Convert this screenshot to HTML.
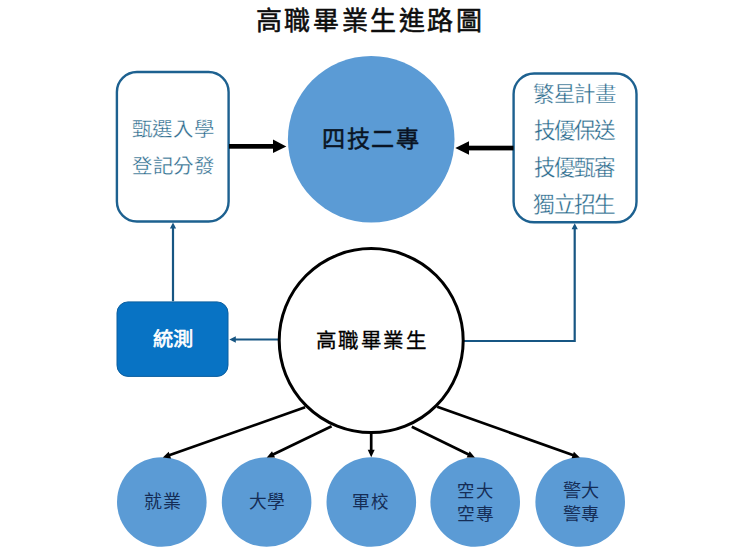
<!DOCTYPE html>
<html lang="zh-TW">
<head>
<meta charset="utf-8">
<style>
html,body{margin:0;padding:0;background:#fff;width:740px;height:555px;overflow:hidden;}
svg{display:block;}
text{font-family:"Liberation Sans",sans-serif;font-weight:400;}
</style>
</head>
<body>
<svg width="740" height="555" viewBox="0 0 740 555">
  <circle cx="371.2" cy="139.2" r="83.3" fill="#5b9bd5"/>
  <rect x="116.9" y="72" width="111.7" height="149.5" rx="20" ry="20" fill="#fff" stroke="#1d6190" stroke-width="2.4"/>
  <rect x="513.6" y="73.5" width="122.9" height="148.8" rx="20.5" ry="20.5" fill="#fff" stroke="#1d6190" stroke-width="2.4"/>
  <rect x="229" y="144" width="45" height="4.7" fill="#000"/>
  <polygon points="273,139.6 286.3,146.4 273,153.1" fill="#000"/>
  <rect x="468" y="145.7" width="45.5" height="4.7" fill="#000"/>
  <polygon points="469,141.2 455.3,148 469,154.7" fill="#000"/>
  <rect x="117" y="301.9" width="111" height="74.5" rx="11" ry="11" fill="#0873c4" stroke="#0b5e9f" stroke-width="1"/>
  <line x1="173" y1="301.2" x2="173" y2="226" stroke="#175683" stroke-width="2.2"/>
  <polygon points="169.9,228.4 173,222.4 176.1,228.4" fill="#175683"/>
  <line x1="278.8" y1="339.5" x2="234" y2="339.5" stroke="#175683" stroke-width="2.2"/>
  <polygon points="235.8,336.3 229.3,339.5 235.8,342.7" fill="#175683"/>
  <polyline points="463.7,341 574.7,341 574.7,227" fill="none" stroke="#175683" stroke-width="2.2"/>
  <polygon points="571.6,229.2 574.7,223.2 577.8,229.2" fill="#175683"/>
  <circle cx="371.2" cy="340.6" r="92" fill="#fff" stroke="#000" stroke-width="3"/>
  <circle cx="161.8" cy="502" r="44.8" fill="#5b9bd5"/>
  <circle cx="266.6" cy="502" r="44.8" fill="#5b9bd5"/>
  <circle cx="371.3" cy="502" r="44.8" fill="#5b9bd5"/>
  <circle cx="475.2" cy="502" r="44.8" fill="#5b9bd5"/>
  <circle cx="580.2" cy="502" r="44.8" fill="#5b9bd5"/>
  <line x1="305.1" y1="407.3" x2="167.75" y2="455.85" stroke="#000" stroke-width="2.7"/>
  <polygon points="162.80,457.60 168.70,451.80 171.04,458.40" fill="#000"/>
  <line x1="331.6" y1="426.2" x2="271.52" y2="455.31" stroke="#000" stroke-width="2.7"/>
  <polygon points="266.80,457.60 272.02,451.18 275.08,457.48" fill="#000"/>
  <line x1="371.2" y1="432" x2="371.20" y2="451.95" stroke="#000" stroke-width="2.7"/>
  <polygon points="371.20,457.20 367.70,449.70 374.70,449.70" fill="#000"/>
  <line x1="411.8" y1="426.8" x2="470.18" y2="455.30" stroke="#000" stroke-width="2.7"/>
  <polygon points="474.90,457.60 466.62,457.46 469.70,451.16" fill="#000"/>
  <line x1="437.2" y1="406.8" x2="574.85" y2="455.74" stroke="#000" stroke-width="2.7"/>
  <polygon points="579.80,457.50 571.56,458.29 573.91,451.69" fill="#000"/>

  <text x="255.81" y="30.25" font-size="26.00" textLength="225.99" lengthAdjust="spacing" fill="#0d0d0d" stroke="#0d0d0d" stroke-width="0.55" stroke-linejoin="round">高職畢業生進路圖</text>
  <text x="322.07" y="147.28" font-size="23.14" textLength="97.02" lengthAdjust="spacing" fill="#0a1424" stroke="#0a1424" stroke-width="0.5" stroke-linejoin="round">四技二專</text>
  <text transform="translate(131.63,0) scale(1.04,1) translate(-131.63,0)" x="131.63" y="136.28" font-size="19.67" textLength="79.17" lengthAdjust="spacing" fill="#2a6a8c" stroke="#ffffff" stroke-width="0.3" stroke-linejoin="round">甄選入學</text>
  <text transform="translate(132.14,0) scale(1.04,1) translate(-132.14,0)" x="132.14" y="173.08" font-size="19.68" textLength="78.68" lengthAdjust="spacing" fill="#2a6a8c" stroke="#ffffff" stroke-width="0.3" stroke-linejoin="round">登記分發</text>
  <text transform="translate(533.30,0) scale(1.02,1) translate(-533.30,0)" x="533.30" y="101.37" font-size="20.97" textLength="81.10" lengthAdjust="spacing" fill="#2a6a8c" stroke="#ffffff" stroke-width="0.3" stroke-linejoin="round">繁星計畫</text>
  <text transform="translate(533.79,0) scale(1.02,1) translate(-533.79,0)" x="533.79" y="138.45" font-size="21.19" textLength="79.82" lengthAdjust="spacing" fill="#2a6a8c" stroke="#ffffff" stroke-width="0.3" stroke-linejoin="round">技優保送</text>
  <text transform="translate(533.79,0) scale(1.02,1) translate(-533.79,0)" x="533.79" y="175.26" font-size="21.08" textLength="80.12" lengthAdjust="spacing" fill="#2a6a8c" stroke="#ffffff" stroke-width="0.3" stroke-linejoin="round">技優甄審</text>
  <text transform="translate(533.40,0) scale(1.02,1) translate(-533.40,0)" x="533.40" y="212.35" font-size="21.19" textLength="80.62" lengthAdjust="spacing" fill="#2a6a8c" stroke="#ffffff" stroke-width="0.3" stroke-linejoin="round">獨立招生</text>
  <text x="152.69" y="346.08" font-size="19.03" textLength="40.53" lengthAdjust="spacingAndGlyphs" fill="#ffffff" stroke="#ffffff" stroke-width="0.6" stroke-linejoin="round">統測</text>
  <text x="316.02" y="347.51" font-size="20.54" textLength="110.56" lengthAdjust="spacing" fill="#000000" stroke="#000000" stroke-width="0.3" stroke-linejoin="round">高職畢業生</text>
  <text x="143.80" y="508.16" font-size="17.95" textLength="36.87" lengthAdjust="spacing" fill="#152d56">就業</text>
  <text x="248.50" y="508.08" font-size="17.72" textLength="36.28" lengthAdjust="spacing" fill="#152d56">大學</text>
  <text x="352.06" y="508.10" font-size="17.53" textLength="36.74" lengthAdjust="spacing" fill="#152d56">軍校</text>
  <text transform="translate(457.10,0) scale(1.04,1) translate(-457.10,0)" x="457.10" y="497.47" font-size="16.65" textLength="35.27" lengthAdjust="spacing" fill="#152d56">空大</text>
  <text transform="translate(457.07,0) scale(1.04,1) translate(-457.07,0)" x="457.07" y="519.56" font-size="16.99" textLength="35.31" lengthAdjust="spacing" fill="#152d56">空專</text>
  <text transform="translate(562.76,0) scale(1.03,1) translate(-562.76,0)" x="562.76" y="497.30" font-size="17.63" textLength="35.10" lengthAdjust="spacing" fill="#152d56">警大</text>
  <text transform="translate(562.77,0) scale(1.03,1) translate(-562.77,0)" x="562.77" y="519.51" font-size="17.53" textLength="35.09" lengthAdjust="spacing" fill="#152d56">警專</text>
</svg>
</body>
</html>
